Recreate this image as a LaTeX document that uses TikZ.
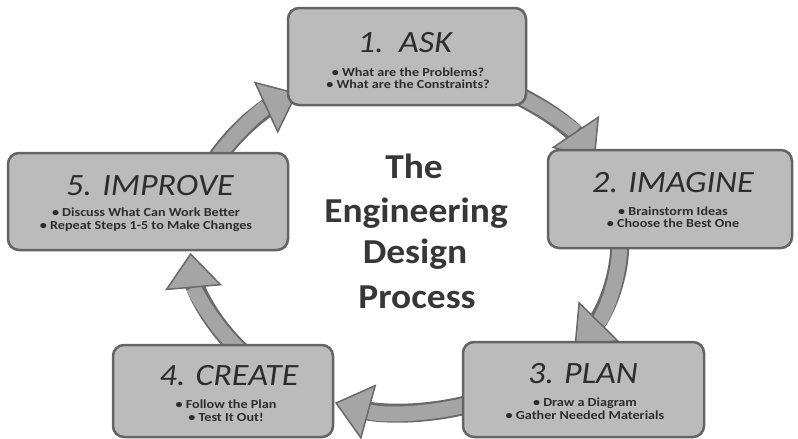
\documentclass[tikz,border=0pt]{standalone}
\usepackage{fontspec}
\setmainfont{Carlito}
\newfontfamily\titlefont{Carlito}[FakeStretch=1.1]
\newfontfamily\bulfont{Carlito}[FakeStretch=1.15]
\newfontfamily\bigfont{Carlito}[FakeStretch=1.07]
\usetikzlibrary{arrows.meta,calc}
\definecolor{boxfill}{RGB}{187,187,187}
\definecolor{boxline}{RGB}{100,100,100}
\definecolor{arrfill}{RGB}{165,165,165}
\definecolor{arrline}{RGB}{105,105,105}
\definecolor{txt}{RGB}{45,45,45}
\definecolor{bigtxt}{RGB}{55,55,55}
\begin{document}
\begin{tikzpicture}[x=1pt,y=-1pt,
  stepbox/.style={draw=boxline, line width=2.5pt, fill=boxfill, rounded corners=11pt, inner sep=0pt},
  ttl/.style={anchor=base, text=txt, font=\titlefont\itshape\fontsize{31}{36}\selectfont, inner sep=0pt},
  bul/.style={anchor=base, text=txt, font=\bulfont\bfseries\fontsize{12.3}{14}\selectfont, inner sep=0pt},
  big/.style={anchor=base, text=bigtxt, font=\bigfont\bfseries\fontsize{35}{40}\selectfont, inner sep=0pt},
  arrout/.style={draw=arrline, line width=19pt, shorten >=24pt},
  arrin/.style={draw=arrfill, line width=15pt, -{Triangle[width=57pt,length=35pt,color=arrline,fill=arrfill,line width=1.5pt]}}
]
\useasboundingbox (0,0) rectangle (798,439);

% cycle arrows on an ellipse
\foreach \n/\a/\b in {1/62/28,2/0/-38,3/-68/-109,4/-140/-176,5/152/120}{
  \pgfmathsetmacro\k{4/3*tan((\b-\a)/4)}
  \coordinate (s\n) at ({405+215*cos(\a)},{241-171*sin(\a)});
  \coordinate (e\n) at ({405+215*cos(\b)},{241-171*sin(\b)});
  \coordinate (c\n) at ({405+215*cos(\a)-(\k)*215*sin(\a)},{241-171*sin(\a)-(\k)*171*cos(\a)});
  \coordinate (d\n) at ({405+215*cos(\b)+(\k)*215*sin(\b)},{241-171*sin(\b)+(\k)*171*cos(\b)});
  \draw[arrout] (s\n) .. controls (c\n) and (d\n) .. (e\n);
  \draw[arrin] (s\n) .. controls (c\n) and (d\n) .. (e\n);
}

% boxes
\node[stepbox, minimum width=238pt, minimum height=97pt] (ask) at (407,56.5) {};
\node[stepbox, minimum width=244pt, minimum height=98pt] (imagine) at (670,199) {};
\node[stepbox, minimum width=280pt, minimum height=97pt] (improve) at (148,201.5) {};
\node[stepbox, minimum width=220pt, minimum height=92pt] (create) at (223,391) {};
\node[stepbox, minimum width=241pt, minimum height=95pt] (plan) at (583.5,389.5) {};

% box texts
\node[ttl] (askt) at (405,52) {1.\ \ ASK};
\node[bul] (ask1) at (408,76) {• What are the Problems?};
\node[bul] (ask2) at (408,88) {• What are the Constraints?};

\node[ttl] (imaginet) at (673,192) {2. IMAGINE};
\node[bul] (imagine1) at (673,215) {• Brainstorm Ideas};
\node[bul] (imagine2) at (673,227) {• Choose the Best One};

\node[ttl] (improvet) at (150,195) {5. IMPROVE};
\node[bul] (improve1) at (146,216) {• Discuss What Can Work Better};
\node[bul] (improve2) at (146,229) {• Repeat Steps 1-5 to Make Changes};

\node[ttl] (createt) at (229,385) {4. CREATE};
\node[bul] (create1) at (226,408) {• Follow the Plan};
\node[bul] (create2) at (226,421) {• Test It Out!};

\node[ttl] (plant) at (583,383) {3. PLAN};
\node[bul] (plan1) at (585,406) {• Draw a Diagram};
\node[bul] (plan2) at (585,419) {• Gather Needed Materials};

% centre title
\node[big] (t1) at (414,178) {The};
\node[big] (t2) at (416,222) {Engineering};
\node[big] (t3) at (415,263) {Design};
\node[big] (t4) at (417,308) {Process};
\end{tikzpicture}
\end{document}
